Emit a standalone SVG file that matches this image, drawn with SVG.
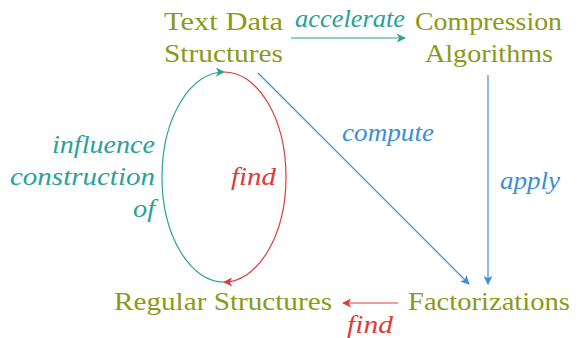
<svg xmlns="http://www.w3.org/2000/svg" width="579" height="338" viewBox="0 0 579 338">
<style>
.c{fill:none;stroke-width:1.2}
</style>
<defs>
<marker id="aT" viewBox="0 0 10 10" refX="9" refY="5" markerWidth="9" markerHeight="9" markerUnits="userSpaceOnUse" orient="auto"><path d="M0,0 L10,5 L0,10 L2.5,5 Z" fill="#2aa198"/></marker>
<marker id="aR" viewBox="0 0 10 10" refX="9" refY="5" markerWidth="9" markerHeight="9" markerUnits="userSpaceOnUse" orient="auto"><path d="M0,0 L10,5 L0,10 L2.5,5 Z" fill="#e03a3a"/></marker>
<marker id="aB" viewBox="0 0 10 10" refX="9" refY="5" markerWidth="9" markerHeight="9" markerUnits="userSpaceOnUse" orient="auto"><path d="M0,0 L10,5 L0,10 L2.5,5 Z" fill="#3a8fd8"/></marker>
</defs>
<g id="connectors">
<path class="c" stroke="#2aa198" d="M291,38 L405,38" marker-end="url(#aT)"/>
<path class="c" stroke="#3a8fd8" d="M258,73 L469,284" marker-end="url(#aB)"/>
<path class="c" stroke="#3a8fd8" d="M488,75 L488,284" marker-end="url(#aB)"/>
<path class="c" stroke="#e03a3a" d="M398,303 L343,303" marker-end="url(#aR)"/>
<path class="c" stroke="#2aa198" d="M224,282 A62,105 0 0 1 224,72" marker-end="url(#aT)"/>
<path class="c" stroke="#e03a3a" d="M224,72 A62,105 0 0 1 224,282" marker-end="url(#aR)"/>
<text fill="#2aa198" style="font-family:'Liberation Serif',serif;font-size:25px;font-style:italic" x="295" y="27" textLength="110" lengthAdjust="spacingAndGlyphs">accelerate</text>
<text fill="#3a8fd8" style="font-family:'Liberation Serif',serif;font-size:25px;font-style:italic" x="342" y="141" textLength="92" lengthAdjust="spacingAndGlyphs">compute</text>
<text fill="#3a8fd8" style="font-family:'Liberation Serif',serif;font-size:25px;font-style:italic" x="500" y="189" textLength="60" lengthAdjust="spacingAndGlyphs">apply</text>
<text fill="#2aa198" style="font-family:'Liberation Serif',serif;font-size:25px;font-style:italic" x="52" y="153" textLength="103" lengthAdjust="spacingAndGlyphs">influence</text>
<text fill="#2aa198" style="font-family:'Liberation Serif',serif;font-size:25px;font-style:italic" x="10" y="185" textLength="145" lengthAdjust="spacingAndGlyphs">construction</text>
<text fill="#2aa198" style="font-family:'Liberation Serif',serif;font-size:25px;font-style:italic" x="133" y="217" textLength="22" lengthAdjust="spacingAndGlyphs">of</text>
<text fill="#e03a3a" style="font-family:'Liberation Serif',serif;font-size:25px;font-style:italic" x="231" y="185" textLength="45" lengthAdjust="spacingAndGlyphs">find</text>
<text fill="#e03a3a" style="font-family:'Liberation Serif',serif;font-size:25px;font-style:italic" x="347" y="333" textLength="46" lengthAdjust="spacingAndGlyphs">find</text>
</g>
<g id="textds">
<text fill="#8a9a18" style="font-family:'Liberation Serif',serif;font-size:25px" x="164" y="30" textLength="119" lengthAdjust="spacingAndGlyphs">Text Data</text>
<text fill="#8a9a18" style="font-family:'Liberation Serif',serif;font-size:25px" x="164" y="62" textLength="119" lengthAdjust="spacingAndGlyphs">Structures</text>
</g>
<g id="compression">
<text fill="#8a9a18" style="font-family:'Liberation Serif',serif;font-size:25px" x="415" y="30" textLength="147" lengthAdjust="spacingAndGlyphs">Compression</text>
<text fill="#8a9a18" style="font-family:'Liberation Serif',serif;font-size:25px" x="425" y="62" textLength="128" lengthAdjust="spacingAndGlyphs">Algorithms</text>
</g>
<g id="regular">
<text fill="#8a9a18" style="font-family:'Liberation Serif',serif;font-size:25px" x="114" y="310" textLength="218" lengthAdjust="spacingAndGlyphs">Regular Structures</text>
</g>
<g id="factorizations">
<text fill="#8a9a18" style="font-family:'Liberation Serif',serif;font-size:25px" x="408" y="310" textLength="162" lengthAdjust="spacingAndGlyphs">Factorizations</text>
</g>
</svg>
